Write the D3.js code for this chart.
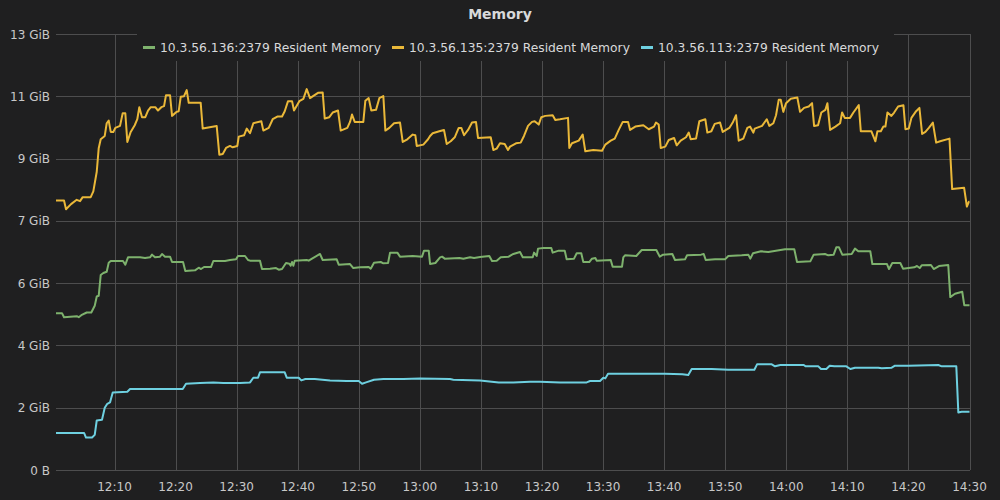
<!DOCTYPE html>
<html><head><meta charset="utf-8">
<script src="https://cdn.jsdelivr.net/npm/d3@7"></script>
<style>
html,body{margin:0;padding:0;background:#1f1f20;}
svg{display:block;font-family:"DejaVu Sans",sans-serif;}
</style></head>
<body><svg id="c" width="1000" height="500"></svg>
<script>
// ---- data (time = minutes after 12:00, value = GiB) ----
const title = "Memory";
const seriesNames = ["10.3.56.136:2379 Resident Memory","10.3.56.135:2379 Resident Memory","10.3.56.113:2379 Resident Memory"];
const seriesColors = ["#7eb26d","#eab839","#6ed0e0"];

const greenTimes = [0.42,1.40,1.73,3.81,4.14,4.56,5.45,6.20,6.76,7.09,7.41,7.74,8.17,8.72,9.05,9.38,9.75,10.90,11.39,11.77,12.21,14.18,15.0,15.81,16.14,16.63,17.45,17.78,18.27,19.09,19.42,21.22,21.59,23.18,23.79,24.16,24.66,25.80,26.18,28.09,28.91,29.90,30.22,31.37,31.86,32.19,33.82,34.15,35.46,36.44,36.89,37.43,38.08,38.63,38.85,39.07,39.28,39.51,41.47,41.80,42.34,43.65,44.09,46.38,46.71,48.56,49.10,50.20,51.62,51.95,52.49,53.59,54.02,54.79,55.12,56.31,56.75,58.83,60.35,60.68,61.45,61.67,62.54,63.31,63.64,64.07,66.47,67.12,68.22,68.88,69.86,71.37,71.82,72.58,73.24,74.55,74.88,75.31,76.40,76.85,78.48,78.69,79.13,79.35,80.22,81.52,81.75,82.73,83.72,84.04,85.24,85.68,86.43,86.76,87.74,88.18,88.73,88.95,91.25,91.57,93.10,93.31,93.59,95.44,96.33,98.72,99.28,99.82,101.34,101.78,103.42,103.75,106.04,106.48,106.81,108.33,109.97,110.51,112.70,113.78,114.11,114.55,115.86,117.06,119.79,121.31,121.76,123.93,124.49,126.34,126.88,127.76,128.19,128.63,129.17,130.71,131.25,131.79,133.76,134.09,136.49,136.82,137.36,138.67,139.11,140.96,141.40,141.84,142.17,143.69,144.14,145.00,146.52,146.85,147.62,148.81,149.14,150];
const greenValues = [4.69,4.69,4.57,4.60,4.57,4.63,4.71,4.71,4.91,5.19,5.21,5.83,5.89,5.93,6.20,6.25,6.25,6.25,6.25,6.14,6.36,6.36,6.34,6.36,6.44,6.36,6.38,6.46,6.38,6.38,6.22,6.22,5.95,5.97,6.05,6.01,6.07,6.07,6.25,6.25,6.28,6.30,6.40,6.40,6.28,6.26,6.26,6.01,6.02,6.04,5.99,6.01,6.19,6.17,6.11,6.22,6.11,6.26,6.28,6.26,6.32,6.46,6.28,6.30,6.14,6.16,6.04,6.06,6.07,6.02,6.20,6.22,6.18,6.19,6.50,6.50,6.38,6.40,6.38,6.56,6.56,6.16,6.19,6.36,6.38,6.32,6.34,6.32,6.36,6.34,6.37,6.40,6.25,6.26,6.36,6.38,6.42,6.46,6.52,6.36,6.36,6.50,6.40,6.62,6.64,6.64,6.50,6.56,6.56,6.30,6.32,6.48,6.48,6.22,6.22,6.32,6.34,6.26,6.28,6.08,6.08,6.36,6.42,6.40,6.58,6.58,6.38,6.44,6.46,6.28,6.30,6.42,6.44,6.46,6.28,6.30,6.30,6.40,6.42,6.44,6.32,6.48,6.54,6.52,6.60,6.60,6.22,6.24,6.44,6.46,6.42,6.44,6.66,6.66,6.44,6.46,6.62,6.54,6.54,6.16,6.16,6.01,6.19,6.19,6.02,6.06,6.10,6.04,6.12,6.13,6.01,6.10,6.13,5.17,5.27,5.33,4.93,4.93];

const yellowTimes = [0.42,1.73,2.06,2.88,3.81,4.35,4.79,6.10,6.53,7.09,7.41,7.74,8.40,8.72,9.05,9.38,9.80,10.13,10.90,11.34,11.77,12.10,12.65,13.31,13.73,14.06,14.50,15.04,15.49,15.93,16.68,17.12,17.66,18.11,18.43,19.09,19.42,20.18,20.51,20.84,21.38,21.82,22.15,24.11,24.44,26.73,27.16,27.72,28.26,28.91,29.35,30.11,30.34,31.21,31.65,32.19,32.73,34.04,34.37,35.25,35.90,36.66,37.43,37.87,38.41,39.07,39.39,40.26,40.92,41.47,42.01,43.32,44.09,44.42,45.17,45.73,46.60,47.04,48.12,48.56,48.89,49.33,50.74,51.07,51.62,52.05,52.82,53.36,54.02,54.35,55.00,55.77,56.75,57.19,57.95,58.83,59.26,59.49,60.57,61.34,61.67,62.10,63.18,63.95,64.40,65.05,65.71,66.36,66.79,67.23,67.89,68.54,69.19,69.52,71.60,72.03,72.58,73.12,73.89,74.43,74.76,75.74,76.51,77.05,77.71,78.36,78.80,79.46,79.88,80.54,81.75,82.18,82.95,84.26,84.47,84.91,86.01,86.66,87.09,88.40,89.83,90.37,91.25,91.91,92.56,93.22,94.09,94.42,95.28,96.59,97.48,98.34,98.67,99.11,99.44,100.19,100.75,101.62,102.06,102.71,103.58,104.03,104.35,105.22,105.76,106.74,107.07,107.73,108.28,109.15,109.59,110.67,111.23,111.77,112.21,112.96,113.62,114.06,114.60,114.83,116.03,116.80,117.22,117.88,118.32,118.76,119.09,119.51,119.96,120.73,121.81,122.25,122.91,123.68,124.22,124.55,125.20,125.74,126.40,126.73,127.17,128.04,128.81,129.14,129.57,130.44,130.99,131.87,132.20,133.94,134.59,134.92,135.48,135.90,136.23,136.56,137.21,137.66,138.31,139.18,139.51,140.06,140.49,141.26,141.80,142.24,142.78,143.34,144.00,144.54,145.19,146.72,147.16,149.12,149.57,149.89,150];
const yellowValues = [8.06,8.06,7.80,7.95,8.08,8.04,8.16,8.16,8.33,8.92,9.62,9.89,9.99,10.37,10.45,10.11,10.11,10.23,10.29,10.67,10.67,9.81,10.11,10.31,10.49,10.85,10.55,10.55,10.75,10.85,10.85,10.75,10.85,10.88,11.21,11.21,10.59,10.71,10.73,11.16,11.18,11.36,10.98,10.98,10.21,10.29,9.43,9.45,9.63,9.69,9.65,9.69,9.97,10.01,10.21,10.07,10.37,10.43,10.15,10.23,10.49,10.57,10.57,10.73,11.03,11.03,10.75,11.03,11.10,11.39,11.12,11.28,11.29,10.51,10.55,10.69,10.75,10.15,10.23,10.41,10.63,10.41,10.41,11.04,11.12,10.75,10.77,11.12,11.18,10.15,10.23,10.37,10.39,9.81,9.89,10.03,10.01,9.69,9.73,9.89,9.99,10.07,10.13,10.17,9.75,9.83,9.95,10.23,10.23,10.01,10.17,10.39,10.41,9.93,9.95,9.57,9.61,9.77,9.75,9.57,9.67,9.77,9.79,9.99,10.29,10.41,10.43,10.33,10.55,10.59,10.61,10.47,10.49,10.53,9.63,9.77,9.85,10.03,9.53,9.57,9.55,9.73,9.85,9.91,10.17,10.41,10.41,10.17,10.27,10.31,10.19,10.27,10.39,10.33,9.63,9.67,9.87,9.93,9.71,9.85,9.95,10.09,9.89,9.91,10.43,10.49,10.09,10.13,10.35,10.39,10.11,10.23,10.39,10.61,9.85,9.91,10.23,10.27,10.09,10.21,10.29,10.49,10.29,10.37,10.61,11.07,11.07,10.71,10.97,11.10,11.14,10.71,10.83,10.87,10.97,10.29,10.31,10.69,10.77,10.97,10.17,10.27,10.37,10.69,10.53,10.53,10.69,10.91,10.13,10.13,9.83,10.13,10.13,10.27,10.27,10.69,10.59,10.69,10.87,10.91,10.19,10.21,10.53,10.73,10.83,10.05,10.11,10.23,10.39,9.79,9.83,9.91,8.40,8.44,7.88,8.02,8.02];

const cyanTimes = [0.42,5.01,5.33,6.32,6.76,7.09,7.95,8.40,8.82,9.26,9.71,12.10,12.54,21.17,21.71,24.00,26.18,27.82,30.55,32.19,32.73,33.50,33.82,37.87,38.20,40.16,40.59,41.25,42.79,45.29,48.02,49.99,50.53,51.19,52.49,54.02,57.29,60.03,64.94,65.48,69.86,72.91,75.31,78.04,79.68,82.95,87.32,87.86,89.50,90.04,90.37,90.81,93.59,100.14,102.97,103.95,104.51,107.78,110.51,114.77,115.21,117.62,118.16,119.02,122.86,123.18,125.25,125.69,126.56,127.11,127.87,129.83,130.49,131.25,135.07,135.62,137.26,137.80,139.98,144.89,145.45,147.84,148.17,148.72,150];
const cyanValues = [1.11,1.11,0.97,0.97,1.05,1.48,1.50,1.86,1.98,2.02,2.32,2.34,2.42,2.42,2.58,2.60,2.62,2.60,2.60,2.62,2.76,2.76,2.92,2.92,2.76,2.76,2.68,2.72,2.72,2.68,2.66,2.66,2.58,2.62,2.70,2.72,2.72,2.74,2.72,2.70,2.68,2.62,2.62,2.64,2.64,2.62,2.62,2.66,2.66,2.76,2.74,2.88,2.88,2.88,2.86,2.84,3.02,3.02,3.00,3.00,3.16,3.16,3.10,3.14,3.14,3.10,3.10,3.02,3.02,3.12,3.10,3.10,3.02,3.06,3.06,3.04,3.06,3.12,3.12,3.14,3.10,3.10,1.72,1.74,1.74];

const yTickBytes = [0,2e9,4e9,6e9,8e9,10e9,12e9,14e9];
const yTickLabels = ["0 B","2 GiB","4 GiB","6 GiB","7 GiB","9 GiB","11 GiB","13 GiB"];
const xTickMinutes = [10,20,30,40,50,60,70,80,90,100,110,120,130,140,150];
const xTickLabels = ["12:10","12:20","12:30","12:40","12:50","13:00","13:10","13:20","13:30","13:40","13:50","14:00","14:10","14:20","14:30"];

// ---- drawing ----
const GiB = Math.pow(2,30);
const svg = d3.select("#c");
const bg = "#1f1f20";
svg.append("rect").attr("width",1000).attr("height",500).attr("fill",bg);

const x = d3.scaleLinear().domain([0.5,150]).range([56.5,969.5]);
const y = d3.scaleLinear().domain([0,14e9/GiB]).range([470,34]);

const grid = svg.append("g");
// horizontal gridlines
grid.selectAll("line.h").data(yTickBytes).enter().append("line")
  .attr("x1",56).attr("x2",970)
  .attr("y1",d=>Math.round(y(d/GiB))+0.5).attr("y2",d=>Math.round(y(d/GiB))+0.5)
  .attr("stroke","#4d4d4e").attr("stroke-width",1);
// vertical gridlines
grid.selectAll("line.v").data(xTickMinutes).enter().append("line")
  .attr("x1",d=>Math.round(x(d))+0.5).attr("x2",d=>Math.round(x(d))+0.5)
  .attr("y1",34).attr("y2",470)
  .attr("stroke","#4d4d4e").attr("stroke-width",1);

// y labels
svg.append("g").selectAll("text").data(yTickBytes).enter().append("text")
  .attr("x",50).attr("y",d=>y(d/GiB)+4.5)
  .attr("text-anchor","end").attr("font-size",12).attr("fill","#c8c8c8")
  .text((d,i)=>yTickLabels[i]);
// x labels
svg.append("g").selectAll("text").data(xTickMinutes).enter().append("text")
  .attr("x",d=>x(d)).attr("y",491)
  .attr("text-anchor","middle").attr("font-size",12).attr("fill","#c8c8c8")
  .text((d,i)=>xTickLabels[i]);

// series
const series = [
  {t:greenTimes,v:greenValues},
  {t:yellowTimes,v:yellowValues},
  {t:cyanTimes,v:cyanValues}
];
const line = d3.line().x(d=>x(d[0])).y(d=>y(d[1]));
series.forEach((s,i)=>{
  const pts = s.t.map((t,j)=>[t,s.v[j]]);
  svg.append("path").attr("d",line(pts)).attr("fill","none")
    .attr("stroke",seriesColors[i]).attr("stroke-width",2)
    .attr("stroke-linejoin","round");
});

// legend box (covers grid under legend)
svg.append("rect").attr("x",137).attr("y",30).attr("width",757).attr("height",31).attr("fill",bg);
const legendX = [143,392,641];
const lg = svg.append("g");
seriesNames.forEach((n,i)=>{
  lg.append("rect").attr("x",legendX[i]).attr("y",46).attr("width",12).attr("height",3).attr("fill",seriesColors[i]);
  lg.append("text").attr("x",legendX[i]+17).attr("y",52).attr("font-size",12.3).attr("fill","#d8d9da").text(n);
});

// title
svg.append("text").attr("x",500).attr("y",19).attr("text-anchor","middle")
  .attr("font-size",14).attr("font-weight","bold").attr("fill","#d8d9da").text(title);
</script>
</body></html>
